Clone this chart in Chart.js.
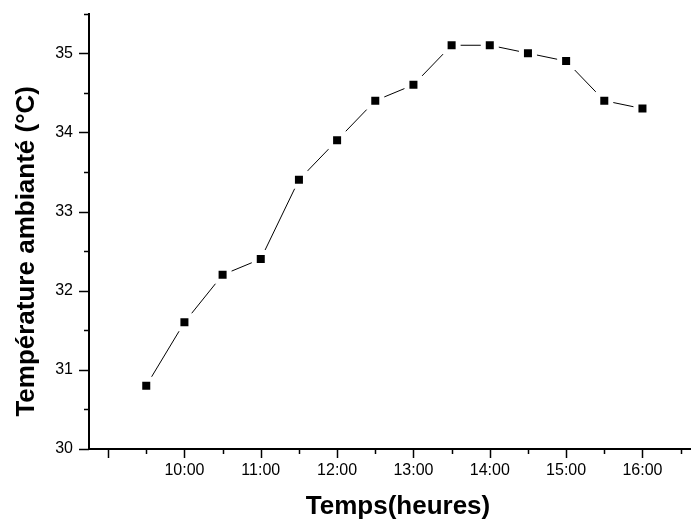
<!DOCTYPE html>
<html>
<head>
<meta charset="utf-8">
<script src="https://cdn.jsdelivr.net/npm/chart.js@4/dist/chart.umd.min.js"></script>
<style>
  html, body { margin: 0; padding: 0; background: #fff; overflow: hidden; }
  #wrap { width: 691px; height: 522px; overflow: hidden; }
  #chart { display: block; margin-top: -12px; }
</style>
</head>
<body>
<div id="wrap"><canvas id="chart" width="733" height="534"></canvas></div>
<script>
// time of day in hours (9.5 = 9:30)
var hours = [9.5, 10, 10.5, 11, 11.5, 12, 12.5, 13, 13.5, 14, 14.5, 15, 15.5, 16];
// ambient temperature, deg C
var temps = [30.8, 31.6, 32.2, 32.4, 33.4, 33.9, 34.4, 34.6, 35.1, 35.1, 35.0, 34.9, 34.4, 34.3];
// hours that get a "HH:00" label under the axis
var labelledHours = [10, 11, 12, 13, 14, 15, 16];

var xTitle = "Temps(heures)";
var yTitle = "Température ambianté (°C)";

var points = hours.map(function(h, i) { return { x: h, y: temps[i] }; });

// Origin style outward ticks: long on whole values, short on halves
var tickMarks = {
  id: "tickMarks",
  afterDraw: function(chart) {
    var ctx = chart.ctx;
    var xs = chart.scales.x;
    var ys = chart.scales.y;
    var area = chart.chartArea;
    ctx.save();
    ctx.strokeStyle = "#000";
    ctx.lineWidth = 1.5;
    ys.ticks.forEach(function(t) {
      var py = Math.round(ys.getPixelForValue(t.value)) + 0.5;
      var len = Number.isInteger(t.value) ? 10 : 5;
      ctx.beginPath();
      ctx.moveTo(area.left, py);
      ctx.lineTo(area.left - len, py);
      ctx.stroke();
    });
    xs.ticks.forEach(function(t) {
      var px = Math.round(xs.getPixelForValue(t.value)) + 0.5;
      var len = Number.isInteger(t.value) ? 9 : 5;
      ctx.beginPath();
      ctx.moveTo(px, area.bottom);
      ctx.lineTo(px, area.bottom + len);
      ctx.stroke();
    });

    // axis titles
    ctx.fillStyle = "#000";
    ctx.font = "bold 26px 'Liberation Sans', Arial, sans-serif";
    ctx.textAlign = "center";
    ctx.textBaseline = "middle";
    ctx.fillText(xTitle, 398, area.bottom + 58);
    ctx.translate(27, (area.top + area.bottom) / 2 + 20);
    ctx.rotate(-Math.PI / 2);
    ctx.fillText(yTitle, 0, 0);
    ctx.restore();
  }
};

new Chart(document.getElementById("chart"), {
  type: "line",
  data: {
    datasets: [{
      data: points,
      borderColor: "#000",
      borderWidth: 1,
      pointStyle: "rect",
      pointRadius: 9.2,
      pointBackgroundColor: "#000",
      pointBorderColor: "#fff",
      pointBorderWidth: 5,
      tension: 0
    }]
  },
  options: {
    responsive: false,
    devicePixelRatio: 1,
    animation: false,
    layout: { padding: 0 },
    plugins: { legend: { display: false }, tooltip: { enabled: false } },
    scales: {
      x: {
        type: "linear",
        min: 8.75,
        max: 17,
        afterFit: function(s) { s.height = 73; },
        grid: { display: false, drawTicks: false, tickLength: 0 },
        border: { display: true, color: "#000", width: 2 },
        ticks: {
          stepSize: 0.5,
          includeBounds: false,
          autoSkip: false,
          maxRotation: 0,
          padding: 12,
          color: "#000",
          font: { family: "'Liberation Sans', Arial, sans-serif", size: 16 },
          callback: function(v) {
            return labelledHours.indexOf(v) >= 0 ? v + ":00" : "";
          }
        }
      },
      y: {
        min: 30,
        max: 35.5,
        afterFit: function(s) { s.width = 89; },
        grid: { display: false, drawTicks: false, tickLength: 0 },
        border: { display: true, color: "#000", width: 2 },
        ticks: {
          stepSize: 0.5,
          autoSkip: false,
          padding: 16,
          color: "#000",
          font: { family: "'Liberation Sans', Arial, sans-serif", size: 16 },
          callback: function(v) {
            return Number.isInteger(v) ? String(v) : "";
          }
        }
      }
    }
  },
  plugins: [tickMarks]
});
</script>
</body>
</html>
